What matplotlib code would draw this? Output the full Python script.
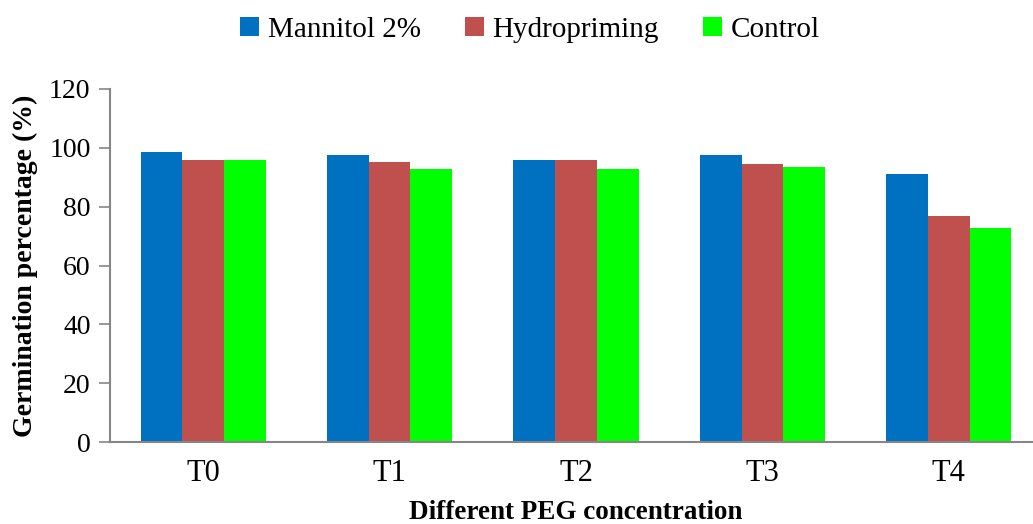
import numpy as np
import matplotlib
matplotlib.use("Agg")
import matplotlib.pyplot as plt

categories = ["T0", "T1", "T2", "T3", "T4"]
mannitol = [98.6, 97.6, 95.9, 97.6, 91.1]
hydropriming = [95.9, 95.2, 95.9, 94.5, 76.9]
control = [95.9, 92.8, 92.8, 93.5, 72.8]
series_names = ["Mannitol 2%", "Hydropriming", "Control"]
yticks = [0, 20, 40, 60, 80, 100, 120]

colors = ["#0070C0", "#C0504D", "#00FF00"]
axis_gray = "#868686"

plt.rcParams["font.family"] = ["Liberation Serif", "DejaVu Serif"]

fig = plt.figure(figsize=(10.33, 5.24), dpi=100)
W, H = 1033, 524
ax = fig.add_axes([110 / W, (H - 442) / H, 932 / W, (442 - 89) / H])

x = np.arange(len(categories))
width = 0.224
for i, (vals, name, c) in enumerate(zip([mannitol, hydropriming, control], series_names, colors)):
    ax.bar(x + (i - 1) * width, vals, width, color=c, label=name, zorder=2)

ax.set_xlim(-0.5, len(categories) - 0.5)
ax.set_ylim(0, 120)
ax.set_yticks(yticks)
ax.set_yticklabels([str(t) for t in yticks], fontsize=20)
ax.set_xticks(x)
ax.set_xticklabels(categories, fontsize=22)
ax.tick_params(axis="x", length=0, pad=12)
ax.tick_params(axis="y", length=8, width=1.2, color=axis_gray, pad=6, direction="out")

for s in ["top", "right"]:
    ax.spines[s].set_visible(False)
for s in ["left", "bottom"]:
    ax.spines[s].set_color(axis_gray)
    ax.spines[s].set_linewidth(1.5)

ax.set_ylabel("Germination percentage (%)", fontsize=20, fontweight="bold", labelpad=8)
ax.set_xlabel("Different PEG concentration", fontsize=19.5, fontweight="bold", labelpad=9)

fig.legend(loc="center", bbox_to_anchor=(530 / W, 1 - 30 / H), ncol=3, frameon=False,
           fontsize=21, handlelength=0.65, handleheight=0.65, handletextpad=0.3,
           columnspacing=1.5)

fig.savefig("out.png", dpi=100)
